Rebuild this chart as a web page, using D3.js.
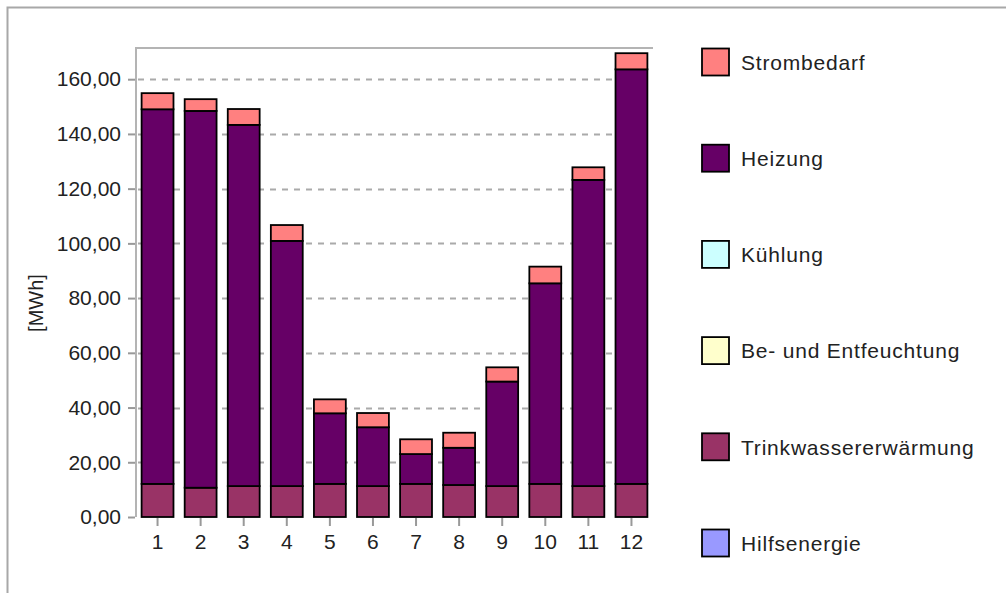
<!DOCTYPE html>
<html>
<head>
<meta charset="utf-8">
<script src="https://cdn.jsdelivr.net/npm/d3@7"></script>
<style>
  html, body { margin: 0; padding: 0; background: #fff; }
  svg { display: block; }
  text { font-family: "Liberation Sans", Arial, sans-serif; fill: #222; }
</style>
</head>
<body>
<svg id="chart" width="1006" height="593"></svg>
<script>
const months = ["1","2","3","4","5","6","7","8","9","10","11","12"];
const hilfsenergie = [0,0,0,0,0,0,0,0,0,0,0,0];
const trinkwasser = [12.1,10.7,11.3,11.3,12.1,11.3,12.1,11.7,11.3,12.1,11.3,12.1];
const entfeuchtung = [0,0,0,0,0,0,0,0,0,0,0,0];
const kuehlung = [0,0,0,0,0,0,0,0,0,0,0,0];
const heizung = [136.9,137.7,132.0,89.6,25.8,21.5,10.9,13.6,38.2,73.3,111.9,151.5];
const strombedarf = [5.9,4.3,5.8,5.8,5.1,5.2,5.4,5.5,5.2,6.1,4.6,5.9];
const yTicks = [0,20,40,60,80,100,120,140,160];
const yMax = 171.4;
const yLabel = "[MWh]";

// stack order bottom -> top
const series = [
  {name: "Hilfsenergie", values: hilfsenergie, color: "#9999ff"},
  {name: "Trinkwassererwärmung", values: trinkwasser, color: "#993366"},
  {name: "Be- und Entfeuchtung", values: entfeuchtung, color: "#ffffcc"},
  {name: "Kühlung", values: kuehlung, color: "#ccffff"},
  {name: "Heizung", values: heizung, color: "#660066"},
  {name: "Strombedarf", values: strombedarf, color: "#ff8080"}
];

const svg = d3.select("#chart");
const fontSize = 21;

// outer frame (left + top)
svg.append("path").attr("d", "M7.5,593 V7.5 H1006")
  .attr("fill", "none").attr("stroke", "#a8a8a8").attr("stroke-width", 2);

const pLeft = 136, pRight = 653, pTop = 48, pBottom = 517;
const x = d3.scaleBand().domain(months).range([pLeft, pRight]).paddingInner(0.26).paddingOuter(0.13);
const y = d3.scaleLinear().domain([0, yMax]).range([pBottom, pTop]);

// gridlines
svg.append("g").selectAll("line").data(yTicks.filter(d => d > 0)).join("line")
  .attr("x1", pLeft + 2).attr("x2", pRight)
  .attr("y1", d => Math.round(y(d)) + 0.5).attr("y2", d => Math.round(y(d)) + 0.5)
  .attr("stroke", "#aaaaaa").attr("stroke-width", 2).attr("stroke-dasharray", "6,6");

// plot frame (left + top)
svg.append("path").attr("d", `M${pLeft},${pBottom} V${pTop} H${pRight}`)
  .attr("fill", "none").attr("stroke", "#b4b4b4").attr("stroke-width", 2);

// y axis
const yAxis = d3.axisLeft(y).tickValues(yTicks).tickSize(7).tickPadding(7)
  .tickFormat(d => d3.format(".2f")(d).replace(".", ","));
const gy = svg.append("g").attr("transform", `translate(${pLeft - 1},0)`).call(yAxis);
gy.select(".domain").remove();
gy.selectAll(".tick line").attr("stroke", "#999").attr("stroke-width", 2);
gy.selectAll(".tick text").attr("font-size", fontSize).attr("fill", "#222")
  .attr("font-family", "'Liberation Sans', Arial, sans-serif");

// x axis
const xAxis = d3.axisBottom(x).tickSize(8).tickPadding(8);
const gx = svg.append("g").attr("transform", `translate(0,${pBottom + 1})`).call(xAxis);
gx.select(".domain").remove();
gx.selectAll(".tick line").attr("stroke", "#999").attr("stroke-width", 2);
gx.selectAll(".tick text").attr("font-size", fontSize).attr("fill", "#222")
  .attr("font-family", "'Liberation Sans', Arial, sans-serif");

// y label
svg.append("text").attr("transform", "translate(43,303) rotate(-90)")
  .attr("text-anchor", "middle").attr("font-size", 20).text(yLabel);

// stacked bars
const rows = months.map((m, i) => {
  const r = {month: m};
  series.forEach(s => r[s.name] = s.values[i]);
  return r;
});
const stack = d3.stack().keys(series.map(s => s.name))(rows);
const colorOf = Object.fromEntries(series.map(s => [s.name, s.color]));

svg.append("g").selectAll("g").data(stack).join("g")
  .attr("fill", d => colorOf[d.key])
  .selectAll("rect").data(d => d.filter(p => p[1] - p[0] > 0)).join("rect")
  .attr("x", d => x(d.data.month))
  .attr("width", x.bandwidth())
  .attr("y", d => y(d[1]))
  .attr("height", d => y(d[0]) - y(d[1]))
  .attr("stroke", "#000").attr("stroke-width", 1.8);

// legend
const legendItems = series.slice().reverse();
const lg = svg.append("g").selectAll("g").data(legendItems).join("g")
  .attr("transform", (d, i) => `translate(702,${48.5 + i * 96.2})`);
lg.append("rect").attr("width", 27).attr("height", 27)
  .attr("fill", d => d.color).attr("stroke", "#000").attr("stroke-width", 1.8);
lg.append("text").attr("x", 39).attr("y", 14).attr("dy", "0.35em")
  .attr("font-size", fontSize).attr("letter-spacing", "0.8px").text(d => d.name);
</script>
</body>
</html>
